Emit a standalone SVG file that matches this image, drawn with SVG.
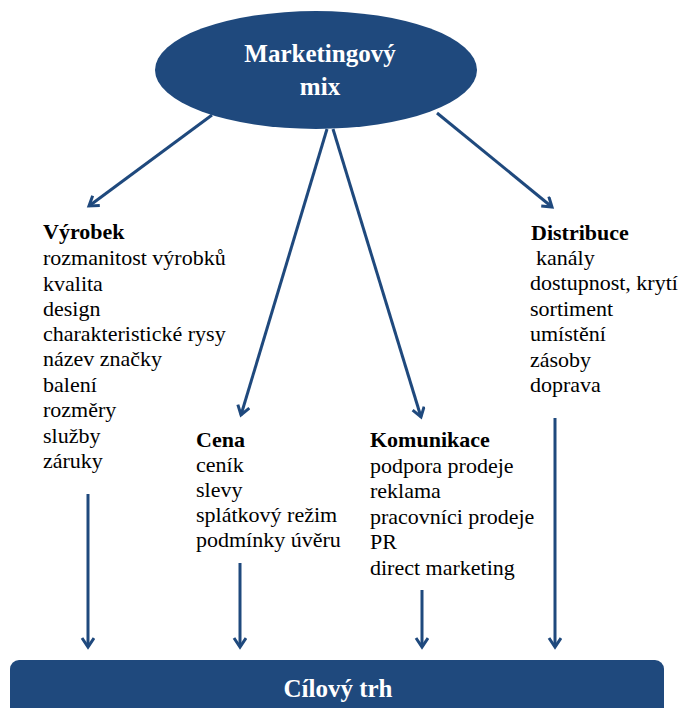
<svg xmlns="http://www.w3.org/2000/svg" width="686" height="708" viewBox="0 0 686 708">
<style>
.t{font-family:'Liberation Serif','Times New Roman','DejaVu Serif',serif;font-size:22px;fill:#000}
.h{font-weight:bold}
.w{font-family:'Liberation Serif','Times New Roman','DejaVu Serif',serif;font-weight:bold;fill:#fff}
.c{stroke:#1F497D;stroke-width:3;fill:none}
</style>
<defs>
<marker id="ah" markerUnits="userSpaceOnUse" markerWidth="16" markerHeight="16" refX="11" refY="7" orient="auto">
<path d="M2,1 L11,7 L2,13" fill="none" stroke="#1F497D" stroke-width="3"/>
</marker>
</defs>
<rect width="686" height="708" fill="#fff"/>
<g id="mix">
<ellipse cx="316" cy="70" rx="161" ry="59" fill="#1F497D"/>
<text class="w" x="320" y="62" font-size="25" text-anchor="middle">Marketingový</text>
<text class="w" x="320" y="95" font-size="25" text-anchor="middle">mix</text>
</g>
<g id="vyrobek" class="t">
<text x="43" y="239" class="h">Výrobek</text>
<text x="43" y="265">rozmanitost výrobků</text>
<text x="43" y="291">kvalita</text>
<text x="43" y="316">design</text>
<text x="43" y="341">charakteristické rysy</text>
<text x="43" y="366">název značky</text>
<text x="43" y="392">balení</text>
<text x="43" y="417">rozměry</text>
<text x="43" y="443">služby</text>
<text x="43" y="468">záruky</text>
</g>
<g id="cena" class="t">
<text x="196" y="447" class="h">Cena</text>
<text x="196" y="472">ceník</text>
<text x="196" y="497">slevy</text>
<text x="196" y="522">splátkový režim</text>
<text x="196" y="547">podmínky úvěru</text>
</g>
<g id="komunikace" class="t">
<text x="370" y="447" class="h">Komunikace</text>
<text x="370" y="473">podpora prodeje</text>
<text x="370" y="498">reklama</text>
<text x="370" y="524">pracovníci prodeje</text>
<text x="370" y="549">PR</text>
<text x="370" y="575">direct marketing</text>
</g>
<g id="distribuce" class="t">
<text x="531" y="240" class="h">Distribuce</text>
<text x="536" y="265">kanály</text>
<text x="530" y="290">dostupnost, krytí</text>
<text x="530" y="316">sortiment</text>
<text x="530" y="341">umístění</text>
<text x="530" y="367">zásoby</text>
<text x="530" y="392">doprava</text>
</g>
<g id="cilovy-trh">
<rect x="10" y="660" width="654" height="60" rx="9" fill="#1F497D"/>
<text class="w" x="338" y="697" font-size="25" text-anchor="middle">Cílový trh</text>
</g>
<g id="connectors" class="c">
<line x1="212" y1="115" x2="89" y2="206" marker-end="url(#ah)"/>
<line x1="437" y1="113" x2="552" y2="207" marker-end="url(#ah)"/>
<line x1="327" y1="129" x2="241" y2="415" marker-end="url(#ah)"/>
<line x1="333" y1="129" x2="421" y2="417" marker-end="url(#ah)"/>
<line x1="88" y1="494" x2="88" y2="647" marker-end="url(#ah)"/>
<line x1="240" y1="563" x2="240" y2="647" marker-end="url(#ah)"/>
<line x1="422" y1="590" x2="422" y2="647" marker-end="url(#ah)"/>
<line x1="555" y1="418" x2="555" y2="647" marker-end="url(#ah)"/>
</g>
</svg>
